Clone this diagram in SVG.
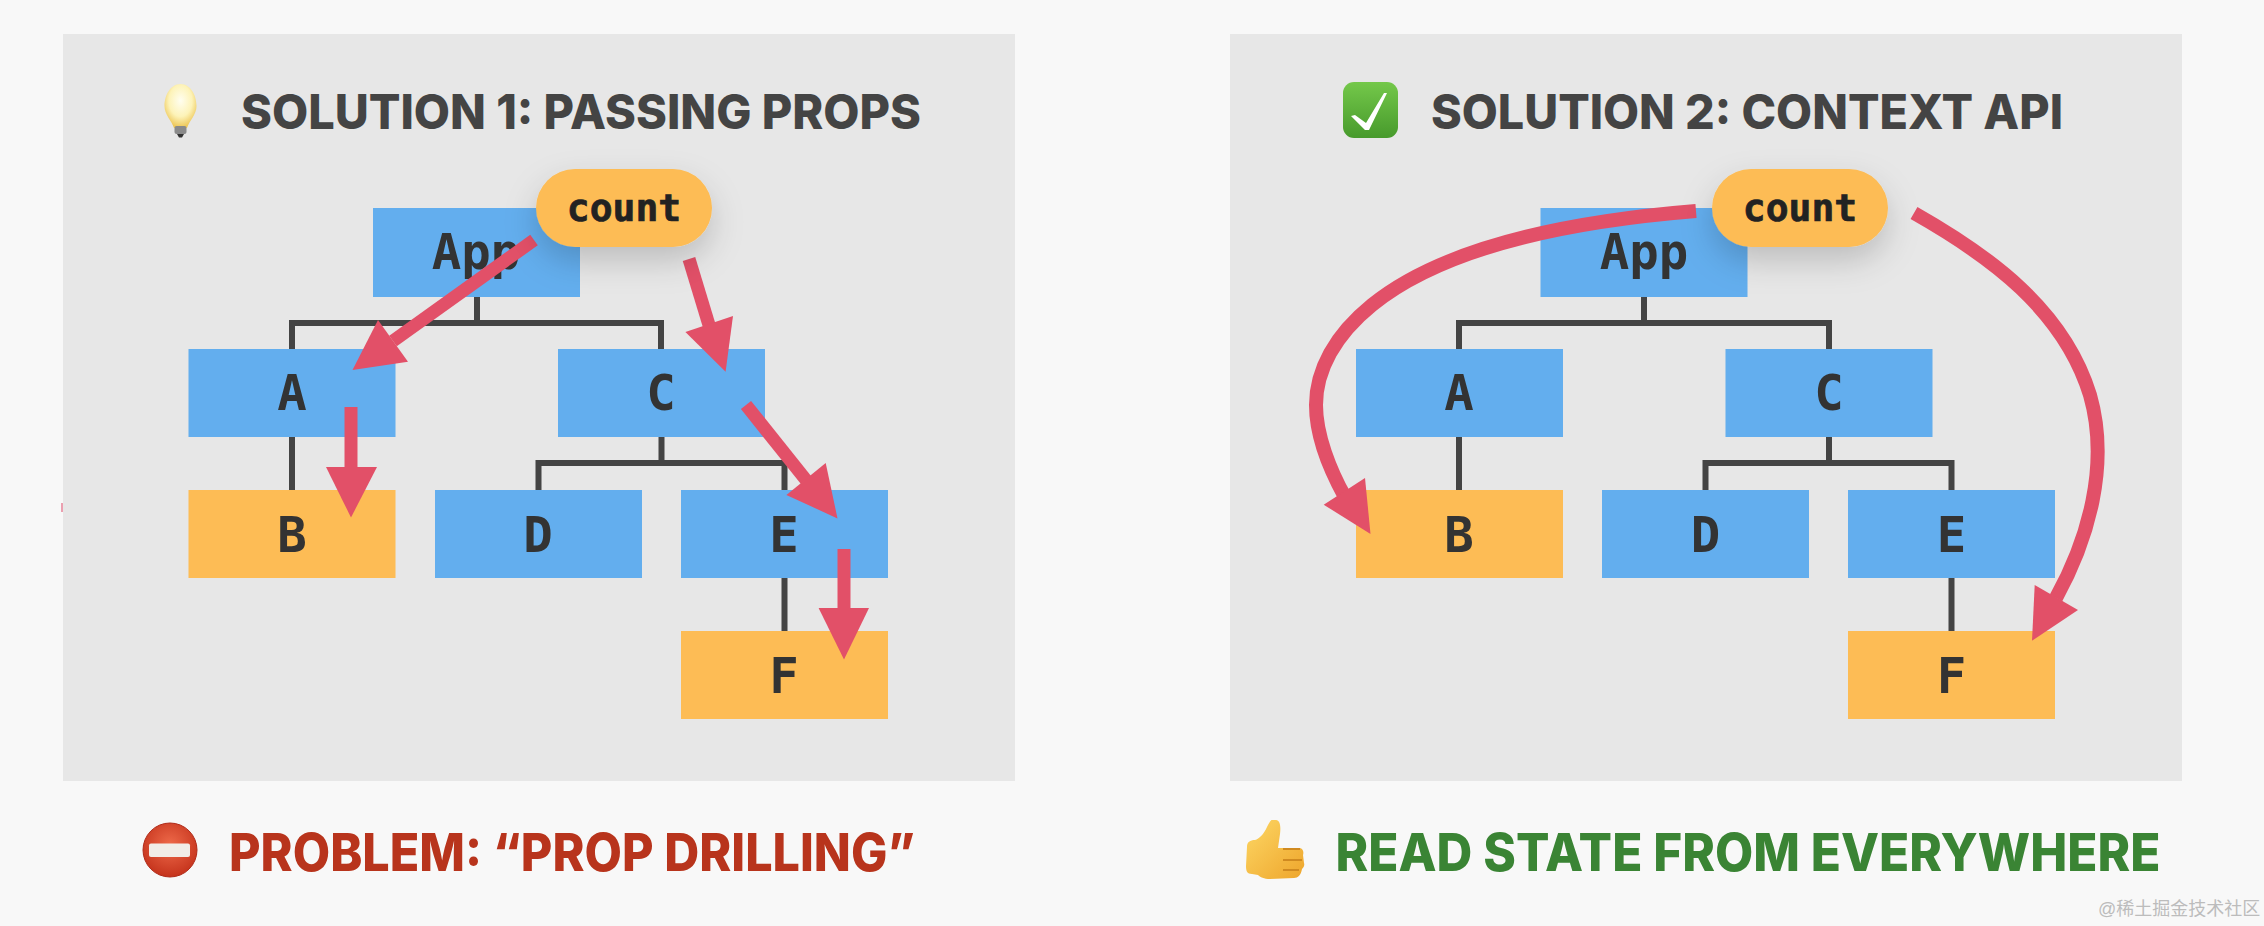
<svg xmlns="http://www.w3.org/2000/svg" width="2264" height="926" viewBox="0 0 2264 926">
<style>
.panel{fill:#e7e7e7}
.blue{fill:#63aeee}
.orange{fill:#fdbc55}
.lbl{font:700 49px "DejaVu Sans Mono","Liberation Mono",monospace;fill:#333;text-anchor:middle}
.cnt{font:700 38px "DejaVu Sans Mono","Liberation Mono",monospace;fill:#222;stroke:#222;stroke-width:.7;text-anchor:middle}
.title{font:800 48px Inter,Lato,"Liberation Sans",sans-serif;fill:#444}
.foot{font:800 52px Inter,Lato,"Liberation Sans",sans-serif}
.wire{fill:none;stroke:#444;stroke-width:6}
.arrow{fill:none;stroke:#e25068;stroke-width:13}
.curve{stroke-width:14}
.head{fill:#e25068}
</style>
<defs>
<filter id="sh" x="-40%" y="-40%" width="180%" height="200%"><feDropShadow dx="0" dy="14" stdDeviation="16" flood-color="#000" flood-opacity=".18"/></filter>
<radialGradient id="bulb" cx=".5" cy=".38" r=".6"><stop offset="0" stop-color="#fffef0"/><stop offset=".6" stop-color="#fdf3b8"/><stop offset="1" stop-color="#eec85a"/></radialGradient>
<linearGradient id="chk" x1="0" y1="0" x2="0" y2="1"><stop offset="0" stop-color="#74c84a"/><stop offset="1" stop-color="#479a2c"/></linearGradient>
<radialGradient id="noent" cx=".5" cy=".4" r=".6"><stop offset="0" stop-color="#ee6a4a"/><stop offset="1" stop-color="#c5331c"/></radialGradient>
<linearGradient id="thumb" x1="0" y1="0" x2="1" y2="1"><stop offset="0" stop-color="#fdd765"/><stop offset="1" stop-color="#eea52b"/></linearGradient>
</defs>
<rect width="2264" height="926" fill="#f8f8f8"/>
<rect class="panel" x="63" y="34" width="952" height="747"/>
<rect class="panel" x="1230" y="34" width="952" height="747"/>
<rect x="61" y="503" width="2" height="9" fill="#eba0b0"/>

<g id="title-1"><text class="title" x="241" y="129" textLength="680" lengthAdjust="spacingAndGlyphs">SOLUTION 1: PASSING PROPS</text></g>
<g id="title-2"><text class="title" x="1431" y="129" textLength="632" lengthAdjust="spacingAndGlyphs">SOLUTION 2: CONTEXT API</text></g>

<g id="icon-bulb">
<path d="M180.500 84c-10 0-16 11-16 22 0 9 7 14 9.500 22h13c2.500-8 9.500-13 9.500-22 0-11-6-22-16-22z" fill="url(#bulb)"/>
<rect x="174.500" y="126" width="12" height="8" rx="2" fill="#8a8a8a"/>
<path d="M177 134h7l-2 3.500h-3z" fill="#333"/>
</g>
<g id="icon-check">
<rect x="1343" y="82" width="55" height="56" rx="11" fill="url(#chk)"/>
<path d="M1351 116l4-1 11 8 18-30h3l-18 37h-4z" fill="#fff"/>
</g>

<g id="connectors">
<path class="wire" d="M477 297V323M292 349V323H661V349M292 437V490M661.500 437V463M538.500 490V463H784.500V490M784.500 578V631"/>
<path class="wire" d="M1644 297V323M1459 349V323H1829V349M1459 437V490M1829 437V463M1705.500 490V463H1951.500V490M1951.500 578V631"/>
</g>

<g id="node-app-1"><rect class="blue" x="373" y="208" width="207" height="89"/><text class="lbl" x="476" y="269">App</text></g>
<g id="node-a-1"><rect class="blue" x="188.500" y="349" width="207" height="88"/><text class="lbl" x="292" y="410">A</text></g>
<g id="node-c-1"><rect class="blue" x="558" y="349" width="207" height="88"/><text class="lbl" x="661" y="410">C</text></g>
<g id="node-b-1"><rect class="orange" x="188.500" y="490" width="207" height="88"/><text class="lbl" x="292" y="552">B</text></g>
<g id="node-d-1"><rect class="blue" x="435" y="490" width="207" height="88"/><text class="lbl" x="538" y="552">D</text></g>
<g id="node-e-1"><rect class="blue" x="681" y="490" width="207" height="88"/><text class="lbl" x="784" y="552">E</text></g>
<g id="node-f-1"><rect class="orange" x="681" y="631" width="207" height="88"/><text class="lbl" x="784" y="693">F</text></g>

<g id="node-app-2"><rect class="blue" x="1540.500" y="208" width="207" height="89"/><text class="lbl" x="1644" y="269">App</text></g>
<g id="node-a-2"><rect class="blue" x="1356" y="349" width="207" height="88"/><text class="lbl" x="1459" y="410">A</text></g>
<g id="node-c-2"><rect class="blue" x="1725.500" y="349" width="207" height="88"/><text class="lbl" x="1829" y="410">C</text></g>
<g id="node-b-2"><rect class="orange" x="1356" y="490" width="207" height="88"/><text class="lbl" x="1459" y="552">B</text></g>
<g id="node-d-2"><rect class="blue" x="1602" y="490" width="207" height="88"/><text class="lbl" x="1705.500" y="552">D</text></g>
<g id="node-e-2"><rect class="blue" x="1848" y="490" width="207" height="88"/><text class="lbl" x="1951.500" y="552">E</text></g>
<g id="node-f-2"><rect class="orange" x="1848" y="631" width="207" height="88"/><text class="lbl" x="1951.500" y="693">F</text></g>

<g id="arrows">
<path class="arrow" d="M534 240L393 341"/><path class="head" d="M352.500 370L378 320 408 361.700z"/>
<path class="arrow" d="M351 407V468"/><path class="head" d="M351 517.500L326 467H377z"/>
<path class="arrow" d="M689 259L709 325"/><path class="head" d="M725.600 371.700L685.400 332 733 316z"/>
<path class="arrow" d="M746 405L806 480"/><path class="head" d="M837.500 518.400L786.400 495 825.700 463z"/>
<path class="arrow" d="M844 549V609"/><path class="head" d="M844 659.400L818.600 608H869z"/>
<path class="arrow curve" d="M1696 211C1560 222 1440 250 1372 305C1335 335 1316 370 1316 405C1316 435 1330 470 1345 497"/><path class="head" d="M1370.500 534L1323.700 504.700 1365 478z"/>
<path class="arrow curve" d="M1914 213C1990 256 2064 310 2090 395C2110 465 2088 540 2056 598"/><path class="head" d="M2032 640.700L2034.700 585 2078 610z"/>
</g>

<g id="count-1"><rect class="orange" x="536" y="169" width="176" height="78" rx="39" ry="39" filter="url(#sh)"/><text class="cnt" x="624" y="221">count</text></g>
<g id="count-2"><rect class="orange" x="1712" y="169" width="176" height="78" rx="39" ry="39" filter="url(#sh)"/><text class="cnt" x="1800" y="221">count</text></g>

<g id="footer-1">
<circle cx="170" cy="850" r="27" fill="url(#noent)" stroke="#b02a18" stroke-width="1"/>
<rect x="149" y="843.500" width="41" height="13.500" rx="2" fill="#f1ede8"/>
<text class="foot" x="229" y="871" fill="#b8341c" textLength="686" lengthAdjust="spacingAndGlyphs">PROBLEM: “PROP DRILLING”</text>
</g>
<g id="footer-2">
<path d="M1276 820c4 0 5 6 4 14l-2 14h21c4 0 5 4 4 7l1 8c1 3-1 5-2 6-1 6-4 9-8 9l-24 1c-6 0-10-2-12-4l-6-1c-5 0-6-3-6-8l1-19c0-5 3-7 8-7 4-1 9-6 12-13 3-6 4-7 5-7z" fill="url(#thumb)"/>
<path d="M1283 849h17M1283 860h19M1283 870h16" stroke="#d08a20" stroke-width="2" fill="none"/>
<text class="foot" x="1335.500" y="871" fill="#3a8434" textLength="825" lengthAdjust="spacingAndGlyphs">READ STATE FROM EVERYWHERE</text>
</g>
<g id="watermark"><text x="2098" y="915" font-family="'Liberation Sans','Noto Sans CJK SC',sans-serif" font-size="18" fill="#bcbcbc">@稀土掘金技术社区</text></g>
</svg>
